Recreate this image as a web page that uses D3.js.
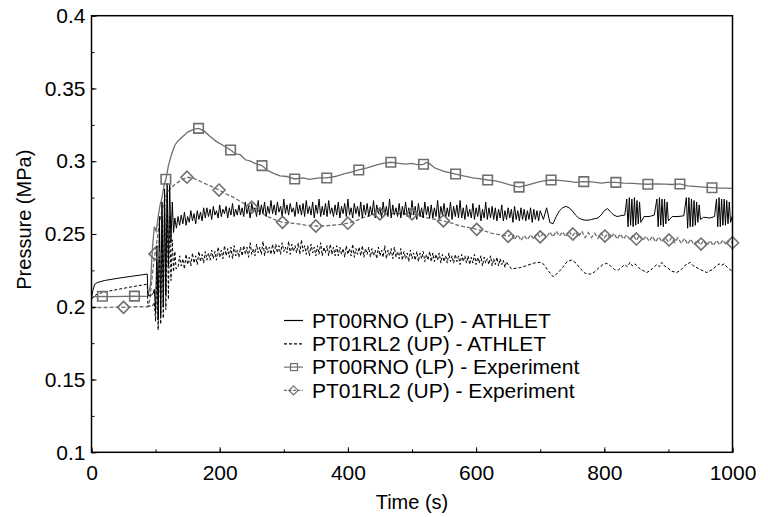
<!DOCTYPE html>
<html>
<head>
<meta charset="utf-8">
<script src="https://cdn.jsdelivr.net/npm/d3@7"></script>
<style>
  body { margin: 0; background: #fff; }
  svg text { font-family: "Liberation Sans", Arial, sans-serif; fill: #000; }
</style>
</head>
<body>
<script>
// ---- data (time in s, pressure in MPa) ----

// x / y tick values
var xTicks = [0, 200, 400, 600, 800, 1000];
var yTicks = [0.1, 0.15, 0.2, 0.25, 0.3, 0.35, 0.4];

// legend labels
var seriesNames = [
  "PT00RNO (LP) - ATHLET",
  "PT01RL2 (UP) - ATHLET",
  "PT00RNO (LP) - Experiment",
  "PT01RL2 (UP) - Experiment"
];

// ATHLET LP: start-up and first spike
var athletLpStart = [
  [0, 0.206], [2, 0.211], [5, 0.2155], [10, 0.2168], [20, 0.218], [40, 0.2195], [60, 0.2208],
  [80, 0.222], [87, 0.2225], [88, 0.208], [92, 0.2075], [96, 0.209], [98, 0.212], [100, 0.196],
  [102, 0.242], [104, 0.191], [106, 0.262], [108, 0.194], [110, 0.272], [112, 0.2], [114, 0.281],
  [116, 0.208], [118, 0.285], [120, 0.228], [122, 0.284], [124, 0.244], [126, 0.272], [128, 0.251]
];
// ATHLET LP: noisy plateau, every 2.5 s from t = 130
var athletLpNoise = [
  0.261, 0.254, 0.262, 0.256, 0.263, 0.257, 0.265, 0.256, 0.262, 0.258, 0.266, 0.259, 0.264, 0.257, 0.266, 0.260, 0.265, 0.259, 0.268, 0.261,
  0.268, 0.262, 0.267, 0.260, 0.269, 0.263, 0.266, 0.261, 0.270, 0.262, 0.267, 0.264, 0.269, 0.261, 0.268, 0.263, 0.271, 0.262, 0.267, 0.263,
  0.270, 0.263, 0.268, 0.262, 0.272, 0.264, 0.269, 0.261, 0.271, 0.265, 0.268, 0.262, 0.273, 0.263, 0.270, 0.264, 0.272, 0.262, 0.269, 0.264,
  0.273, 0.264, 0.270, 0.263, 0.272, 0.265, 0.269, 0.262, 0.274, 0.264, 0.270, 0.263, 0.271, 0.265, 0.268, 0.262, 0.272, 0.264, 0.270, 0.263,
  0.271, 0.262, 0.273, 0.264, 0.269, 0.263, 0.272, 0.261, 0.270, 0.264, 0.274, 0.262, 0.269, 0.263, 0.271, 0.262, 0.273, 0.264, 0.268, 0.262,
  0.270, 0.263, 0.272, 0.261, 0.269, 0.264, 0.271, 0.262, 0.274, 0.263, 0.268, 0.261, 0.271, 0.264, 0.269, 0.262, 0.272, 0.261, 0.270, 0.263,
  0.271, 0.262, 0.269, 0.263, 0.273, 0.261, 0.270, 0.264, 0.268, 0.261, 0.272, 0.263, 0.269, 0.262, 0.274, 0.261, 0.270, 0.263, 0.268, 0.262,
  0.271, 0.261, 0.269, 0.263, 0.272, 0.262, 0.268, 0.261, 0.273, 0.263, 0.269, 0.260, 0.271, 0.262, 0.268, 0.261, 0.272, 0.263, 0.269, 0.261,
  0.270, 0.261, 0.268, 0.262, 0.273, 0.260, 0.269, 0.263, 0.271, 0.261, 0.268, 0.262, 0.272, 0.260, 0.269, 0.262, 0.270, 0.261, 0.273, 0.261,
  0.268, 0.260, 0.270, 0.262, 0.267, 0.261, 0.271, 0.260, 0.268, 0.262, 0.270, 0.259, 0.267, 0.261, 0.272, 0.260, 0.268, 0.261, 0.269, 0.260,
  0.268, 0.259, 0.267, 0.261, 0.270, 0.259, 0.266, 0.260, 0.268, 0.261, 0.267, 0.258, 0.269, 0.260, 0.266, 0.259, 0.268, 0.260, 0.267, 0.259,
  0.266, 0.260, 0.268, 0.258, 0.267, 0.260, 0.266, 0.259, 0.266
];
// ATHLET LP: late part with oscillation bursts
var athletLpEnd = [
  [705, 0.260], [710, 0.268], [715, 0.258], [720, 0.257], [725, 0.262], [730, 0.266], [735, 0.268],
  [740, 0.269], [745, 0.268], [750, 0.266], [755, 0.263], [760, 0.261], [765, 0.260], [770, 0.2595],
  [775, 0.2595], [780, 0.260], [785, 0.2605], [790, 0.261], [795, 0.263], [800, 0.266], [805, 0.2675],
  [810, 0.265], [815, 0.263], [820, 0.262], [825, 0.2625], [832, 0.263],
  [835, 0.274], [837, 0.255], [839, 0.275], [841, 0.256], [843, 0.274], [845, 0.255], [847, 0.275],
  [849, 0.256], [851, 0.273], [853, 0.257], [855, 0.272], [857, 0.258],
  [862, 0.262], [870, 0.262], [878, 0.263],
  [882, 0.274], [884, 0.255], [886, 0.275], [888, 0.256], [890, 0.274], [892, 0.255], [894, 0.274],
  [896, 0.257], [898, 0.272], [900, 0.259],
  [906, 0.262], [915, 0.262], [924, 0.2625],
  [928, 0.275], [930, 0.254], [932, 0.275], [934, 0.255], [936, 0.274], [938, 0.255], [940, 0.273],
  [942, 0.256], [944, 0.272], [946, 0.258], [948, 0.270], [950, 0.260],
  [955, 0.2615], [965, 0.261], [972, 0.262],
  [975, 0.274], [977, 0.255], [979, 0.275], [981, 0.255], [983, 0.274], [985, 0.256], [987, 0.274],
  [989, 0.256], [991, 0.273], [993, 0.257], [995, 0.272], [997, 0.258], [1000, 0.263]
];

// ATHLET UP: start-up and first spike
var athletUpStart = [
  [0, 0.2055], [3, 0.207], [10, 0.209], [30, 0.211], [60, 0.2135], [87, 0.2155], [88, 0.2005],
  [95, 0.2005], [98, 0.203], [100, 0.19], [102, 0.23], [104, 0.184], [106, 0.25], [108, 0.188],
  [110, 0.262], [112, 0.192], [114, 0.27], [116, 0.198], [118, 0.276], [120, 0.205], [122, 0.262],
  [124, 0.218], [126, 0.246], [128, 0.224], [130, 0.238], [132, 0.226]
];
// ATHLET UP: noisy plateau, every 2.5 s from t = 135
var athletUpNoise = [
  0.227, 0.235, 0.228, 0.233, 0.226, 0.236, 0.229, 0.234, 0.228, 0.237, 0.230, 0.235, 0.229, 0.238, 0.231, 0.236, 0.230, 0.238, 0.232, 0.237,
  0.232, 0.239, 0.233, 0.238, 0.232, 0.241, 0.234, 0.239, 0.233, 0.242, 0.235, 0.240, 0.234, 0.241, 0.233, 0.242, 0.235, 0.239, 0.234, 0.241,
  0.235, 0.242, 0.236, 0.241, 0.234, 0.244, 0.236, 0.240, 0.235, 0.243, 0.237, 0.241, 0.236, 0.245, 0.235, 0.242, 0.237, 0.241, 0.236, 0.243,
  0.236, 0.243, 0.237, 0.242, 0.236, 0.244, 0.238, 0.241, 0.237, 0.245, 0.236, 0.243, 0.238, 0.242, 0.237, 0.244, 0.236, 0.246, 0.238, 0.242,
  0.236, 0.242, 0.235, 0.243, 0.237, 0.241, 0.235, 0.242, 0.236, 0.244, 0.235, 0.241, 0.237, 0.242, 0.235, 0.243, 0.236, 0.241, 0.235, 0.242,
  0.235, 0.241, 0.236, 0.240, 0.234, 0.242, 0.236, 0.240, 0.235, 0.243, 0.234, 0.240, 0.236, 0.241, 0.235, 0.242, 0.234, 0.240, 0.236, 0.241,
  0.234, 0.240, 0.235, 0.239, 0.233, 0.241, 0.235, 0.239, 0.234, 0.242, 0.233, 0.239, 0.235, 0.240, 0.233, 0.241, 0.234, 0.238, 0.233, 0.240,
  0.232, 0.238, 0.233, 0.237, 0.231, 0.239, 0.233, 0.237, 0.232, 0.238, 0.231, 0.237, 0.233, 0.238, 0.231, 0.236, 0.232, 0.238, 0.231, 0.237,
  0.231, 0.236, 0.232, 0.237, 0.230, 0.236, 0.231, 0.235, 0.230, 0.237, 0.231, 0.235, 0.230, 0.236, 0.231, 0.235, 0.229, 0.236, 0.231, 0.235,
  0.230, 0.235, 0.229, 0.234, 0.230, 0.236, 0.229, 0.234, 0.230, 0.235, 0.228, 0.234, 0.230, 0.233, 0.229, 0.235, 0.228, 0.233, 0.229, 0.234,
  0.228, 0.233, 0.229, 0.232, 0.227, 0.231, 0.229
];
// ATHLET UP: late part, slow waves
var athletUpEnd = [
  [655, 0.226], [663, 0.2265], [670, 0.227], [680, 0.2285], [690, 0.230], [700, 0.2306], [706, 0.229],
  [712, 0.225], [720, 0.2207], [727, 0.223], [735, 0.227], [742, 0.231], [749, 0.2321], [756, 0.230],
  [763, 0.226], [770, 0.223], [778, 0.2224], [785, 0.224], [792, 0.227], [798, 0.229], [804, 0.2299],
  [810, 0.228], [816, 0.2255], [822, 0.2253], [828, 0.2275], [832, 0.229], [836, 0.2275], [840, 0.2305],
  [844, 0.228], [848, 0.2295], [853, 0.227], [858, 0.2255], [866, 0.2235], [872, 0.225], [878, 0.2275],
  [882, 0.229], [886, 0.2275], [890, 0.2305], [894, 0.228], [898, 0.227], [905, 0.2245], [913, 0.2235],
  [920, 0.2255], [926, 0.2285], [930, 0.2295], [934, 0.2305], [938, 0.2285], [942, 0.2275], [950, 0.2255],
  [960, 0.2235], [968, 0.2255], [975, 0.228], [979, 0.2295], [983, 0.2285], [987, 0.2295], [992, 0.227],
  [1000, 0.2242]
];

// Experiment LP line
var expLp = [
  [0, 0.2055], [4, 0.207], [17, 0.2072], [30, 0.207], [50, 0.2072], [67, 0.2073], [80, 0.2072],
  [88, 0.2073], [92, 0.215], [95, 0.24], [98, 0.255], [101, 0.252], [104, 0.262], [107, 0.27],
  [110, 0.275], [113, 0.283], [116, 0.2876], [120, 0.297], [125, 0.305], [130, 0.311], [135, 0.314],
  [140, 0.316], [145, 0.318], [150, 0.320], [160, 0.322], [167, 0.3226], [175, 0.321], [185, 0.317],
  [195, 0.3135], [205, 0.311], [217, 0.3077], [225, 0.305], [232, 0.3045], [240, 0.301], [248, 0.300],
  [255, 0.2985], [266, 0.297], [275, 0.2935], [285, 0.2915], [294, 0.290], [305, 0.2895], [317, 0.2878],
  [330, 0.2885], [340, 0.2875], [355, 0.2885], [367, 0.2885], [380, 0.2895], [395, 0.2915], [405, 0.2925],
  [417, 0.294], [430, 0.2955], [445, 0.2975], [455, 0.2985], [467, 0.2993], [480, 0.2985], [490, 0.298],
  [500, 0.2985], [510, 0.2975], [518, 0.2979], [522, 0.2992], [527, 0.2985], [535, 0.2955], [550, 0.293],
  [568, 0.2912], [580, 0.290], [595, 0.2885], [605, 0.288], [618, 0.2871], [630, 0.2865], [640, 0.2855],
  [653, 0.2837], [667, 0.2822], [680, 0.2835], [695, 0.2855], [705, 0.2865], [717, 0.2871], [730, 0.2868],
  [745, 0.2862], [755, 0.2855], [768, 0.286], [780, 0.2858], [795, 0.285], [805, 0.2855], [818, 0.2855],
  [830, 0.285], [845, 0.2848], [855, 0.2845], [868, 0.2842], [880, 0.2845], [895, 0.2843], [905, 0.284],
  [918, 0.2844], [930, 0.283], [945, 0.2825], [955, 0.2822], [968, 0.2818], [980, 0.2815], [990, 0.2815],
  [1000, 0.2814]
];
var expLpMarkers = [
  [17, 0.2072], [67, 0.2073], [116, 0.2876], [167, 0.3226], [217, 0.3077], [266, 0.297], [317, 0.2878],
  [367, 0.2885], [417, 0.294], [467, 0.2993], [518, 0.2979], [568, 0.2912], [618, 0.2871], [667, 0.2822],
  [717, 0.2871], [768, 0.286], [818, 0.2855], [868, 0.2842], [918, 0.2844], [968, 0.2818]
];

// Experiment UP line
var expUp = [
  [0, 0.199], [10, 0.1995], [25, 0.1995], [40, 0.1998], [50, 0.1996], [65, 0.2], [80, 0.2], [88, 0.2],
  [91, 0.205], [94, 0.218], [97, 0.23], [99, 0.2363], [102, 0.245], [105, 0.255], [108, 0.262],
  [112, 0.27], [116, 0.276], [120, 0.2795], [125, 0.282], [130, 0.284], [138, 0.2865], [149, 0.289],
  [158, 0.2885], [168, 0.2865], [178, 0.2845], [188, 0.2825], [199, 0.2802], [210, 0.2775], [220, 0.2755],
  [230, 0.273], [240, 0.2705], [250, 0.2684], [262, 0.2655], [272, 0.2625], [285, 0.260], [298, 0.258],
  [310, 0.2575], [322, 0.257], [335, 0.256], [350, 0.2555], [362, 0.2555], [375, 0.256], [388, 0.2565],
  [400, 0.2574], [412, 0.259], [425, 0.2615], [438, 0.263], [450, 0.2638], [462, 0.264], [475, 0.264],
  [488, 0.264], [500, 0.2638], [512, 0.2625], [525, 0.261], [537, 0.260], [549, 0.259], [562, 0.2575],
  [575, 0.2555], [588, 0.2545], [601, 0.2532], [613, 0.252], [625, 0.2505], [637, 0.2495], [650, 0.2484]
];
// Experiment UP: noisy tail, every 5 s from t = 655
var expUpNoise = [
  0.250, 0.246, 0.2495, 0.2455, 0.249, 0.246, 0.2495, 0.2465, 0.2505, 0.2475, 0.251, 0.2475, 0.2515,
  0.248, 0.252, 0.2485, 0.2515, 0.248, 0.252, 0.2485, 0.2515, 0.248, 0.252, 0.2475, 0.251, 0.2475,
  0.2505, 0.247, 0.2505, 0.2475, 0.250, 0.247, 0.2505, 0.2465, 0.250, 0.2465, 0.2495, 0.246, 0.2495,
  0.2455, 0.249, 0.2455, 0.2485, 0.245, 0.2485, 0.2445, 0.248, 0.2445, 0.2475, 0.2445, 0.2475, 0.244,
  0.2475, 0.2435, 0.247, 0.243, 0.2465, 0.2425, 0.246, 0.2425, 0.2455, 0.242, 0.2455, 0.242, 0.2455,
  0.2425, 0.246, 0.2425, 0.2455, 0.244
];
var expUpMarkers = [
  [50, 0.1996], [99, 0.2363], [149, 0.289], [199, 0.2802], [250, 0.2684], [298, 0.258], [350, 0.2555],
  [400, 0.2574], [450, 0.2638], [500, 0.2638], [549, 0.259], [601, 0.2532], [650, 0.2484], [700, 0.248],
  [751, 0.250], [801, 0.2486], [850, 0.2466], [901, 0.2459], [951, 0.2431], [1000, 0.244]
];

// ---- build the full series ----
function onGrid(start, step, vals) {
  return vals.map(function(v, i) { return [start + i * step, v]; });
}
var athletLp = athletLpStart.concat(onGrid(130, 2.5, athletLpNoise), athletLpEnd);
var athletUp = athletUpStart.concat(onGrid(135, 2.5, athletUpNoise), athletUpEnd);
var expUpAll = expUp.concat(onGrid(655, 5, expUpNoise));

// ---- layout ----
var margin = {top: 15.7, right: 35.5, bottom: 64.7, left: 91.5},
    width = 768 - margin.left - margin.right,
    height = 517 - margin.top - margin.bottom;

var svg = d3.select("body").append("svg")
    .attr("width", 768)
    .attr("height", 517)
  .append("g")
    .attr("transform", "translate(" + margin.left + "," + margin.top + ")");

var x = d3.scaleLinear().domain([0, 1000]).range([0, width]),
    y = d3.scaleLinear().domain([0.1, 0.4]).range([height, 0]);

var gray = "#6f6f6f";

var line = d3.line()
    .x(function(d) { return x(d[0]); })
    .y(function(d) { return y(d[1]); });

// clip to plot area
svg.append("clipPath").attr("id", "clip")
  .append("rect").attr("width", width).attr("height", height);

var plot = svg.append("g").attr("clip-path", "url(#clip)");

// experiment lines first (gray), then ATHLET (black)
plot.append("path").datum(expUpAll)
    .attr("d", line).attr("fill", "none")
    .attr("stroke", gray).attr("stroke-width", 1.3).attr("stroke-dasharray", "4,2");
plot.append("path").datum(expLp)
    .attr("d", line).attr("fill", "none")
    .attr("stroke", gray).attr("stroke-width", 1.3);
plot.append("path").datum(athletUp)
    .attr("d", line).attr("fill", "none")
    .attr("stroke", "#000").attr("stroke-width", 1).attr("stroke-dasharray", "3,2");
plot.append("path").datum(athletLp)
    .attr("d", line).attr("fill", "none")
    .attr("stroke", "#000").attr("stroke-width", 1);

// markers
var square = d3.symbol().type(d3.symbolSquare).size(90);
var diamond = function(r) {
  return "M0," + (-r) + "L" + r + ",0L0," + r + "L" + (-r) + ",0Z";
};

svg.selectAll(".sq").data(expLpMarkers).enter().append("path")
    .attr("class", "sq")
    .attr("d", square)
    .attr("transform", function(d) { return "translate(" + x(d[0]) + "," + y(d[1]) + ")"; })
    .attr("fill", "none").attr("stroke", gray).attr("stroke-width", 1.6);

svg.selectAll(".dm").data(expUpMarkers).enter().append("path")
    .attr("class", "dm")
    .attr("d", diamond(6))
    .attr("transform", function(d) { return "translate(" + x(d[0]) + "," + y(d[1]) + ")"; })
    .attr("fill", "none").attr("stroke", gray).attr("stroke-width", 1.6);

// ---- axes ----
svg.append("g")
    .attr("transform", "translate(0," + height + ")")
    .call(d3.axisBottom(x).tickValues(d3.range(0, 1001, 100)).tickSize(-3).tickFormat(""))
    .call(function(g) { g.select(".domain").remove(); });
svg.append("g")
    .attr("transform", "translate(0," + height + ")")
    .call(d3.axisBottom(x).tickValues(xTicks).tickSize(-5).tickPadding(13).tickFormat(d3.format("d")))
    .call(function(g) { g.select(".domain").remove(); })
    .selectAll("text").style("font-size", "21px");

svg.append("g")
    .call(d3.axisLeft(y).tickValues(d3.range(0.1, 0.401, 0.025)).tickSize(-3).tickFormat(""))
    .call(function(g) { g.select(".domain").remove(); });
svg.append("g")
    .call(d3.axisLeft(y).tickValues(yTicks).tickSize(-5).tickPadding(6).tickFormat(function(d) { return d3.format("")(+d.toFixed(2)); }))
    .call(function(g) { g.select(".domain").remove(); })
    .selectAll("text").style("font-size", "21px");

// frame
svg.append("rect")
    .attr("width", width).attr("height", height)
    .attr("fill", "none").attr("stroke", "#000").attr("stroke-width", 1.5);

// axis titles
svg.append("text")
    .attr("x", width / 2).attr("y", height + 57)
    .attr("text-anchor", "middle").style("font-size", "20px")
    .text("Time (s)");
svg.append("text")
    .attr("transform", "translate(" + (24 - margin.left) + "," + 204 + ") rotate(-90)")
    .attr("text-anchor", "middle").attr("dy", "0.35em").style("font-size", "20px")
    .text("Pressure (MPa)");

// ---- legend ----
var legendStyles = [
  {stroke: "#000", dash: null, marker: null},
  {stroke: "#000", dash: "3,2", marker: null},
  {stroke: gray, dash: null, marker: "square"},
  {stroke: gray, dash: "3,1.5", marker: "diamond"}
];
var legend = svg.append("g")
    .attr("transform", "translate(" + (284 - margin.left) + "," + (320.5 - margin.top) + ")");
var item = legend.selectAll(".item").data(seriesNames).enter().append("g")
    .attr("class", "item")
    .attr("transform", function(d, i) { return "translate(0," + (i * 23.3) + ")"; });
item.append("line")
    .attr("x1", 0).attr("x2", 19).attr("y1", 0).attr("y2", 0)
    .attr("stroke", function(d, i) { return legendStyles[i].stroke; })
    .attr("stroke-width", 1.2)
    .attr("stroke-dasharray", function(d, i) { return legendStyles[i].dash; });
item.filter(function(d, i) { return legendStyles[i].marker === "square"; })
  .append("rect")
    .attr("x", 6.5).attr("y", -3.5).attr("width", 7).attr("height", 7)
    .attr("fill", "none").attr("stroke", gray).attr("stroke-width", 1.2);
item.filter(function(d, i) { return legendStyles[i].marker === "diamond"; })
  .append("path")
    .attr("d", diamond(4.5))
    .attr("transform", "translate(9.5,0)")
    .attr("fill", "none").attr("stroke", gray).attr("stroke-width", 1.2);
item.append("text")
    .attr("x", 28).attr("dy", "0.35em")
    .style("font-size", "21px")
    .text(function(d) { return d; });
</script>
</body>
</html>
